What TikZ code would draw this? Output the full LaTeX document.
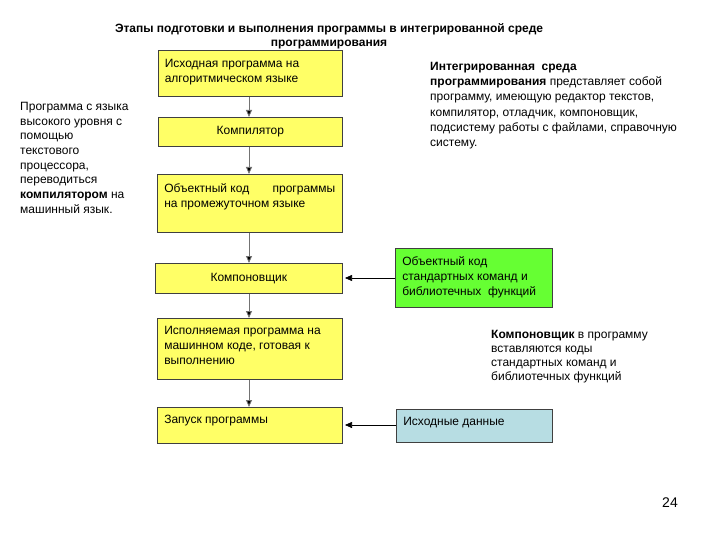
\documentclass[tikz,border=0pt]{standalone}
\usepackage{fontspec}
\setmainfont{Liberation Sans}
\usetikzlibrary{arrows.meta}
\definecolor{boxyellow}{HTML}{FFFF66}
\definecolor{boxgreen}{HTML}{66FF33}
\definecolor{boxblue}{HTML}{B7DDE3}
\tikzset{
  ybox/.style={draw=black!75, line width=0.6pt, inner sep=0pt, anchor=north west, font=\fontsize{12}{15}\selectfont},
  conn/.style={draw=black!55, line width=0.9pt, -{Triangle[length=7pt,width=6pt,fill=black]}},
  hconn/.style={draw=black, line width=0.6pt, -{Triangle[length=7pt,width=6pt]}},
  note/.style={anchor=north west, inner sep=0pt, align=left, font=\fontsize{12}{14.7}\selectfont}
}
\begin{document}
\begin{tikzpicture}[x=1pt,y=-1pt]
\path[use as bounding box, fill=white] (0,0) rectangle (720,540);
\node[font=\bfseries\fontsize{12}{14}\selectfont, align=center, inner sep=0pt] (title) at (329,36) {Этапы подготовки и выполнения программы в интегрированной среде\\программирования};

\node[ybox, fill=boxyellow, minimum width=184pt, minimum height=46pt] (b1) at (158,50)
  {\parbox[c][28pt][t]{171pt}{\raggedright Исходная программа на\\алгоритмическом языке}};
\node[ybox, fill=boxyellow, minimum width=184pt, minimum height=29pt, anchor=north west] (b2) at (158,117) {Компилятор};
\node[ybox, fill=boxyellow, minimum width=185pt, minimum height=58pt] (b3) at (157,174)
  {\parbox[c][40pt][t]{171pt}{Объектный код\hfill программы\\на промежуточном языке}};
\node[ybox, fill=boxyellow, minimum width=187pt, minimum height=30pt] (b4) at (155,263) {Компоновщик};
\node[ybox, fill=boxgreen, minimum width=157pt, minimum height=59pt] (g) at (395,248)
  {\parbox[c][43pt][t]{143pt}{\raggedright Объектный код\\стандартных команд и\\библиотечных\ \ функций}};
\node[ybox, fill=boxyellow, minimum width=185pt, minimum height=61pt] (b5) at (157,318)
  {\parbox[c][45pt][t]{171pt}{\raggedright Исполняемая программа на\\машинном коде, готовая к\\выполнению}};
\node[ybox, fill=boxyellow, minimum width=185pt, minimum height=36pt] (b6) at (157,407)
  {\parbox[c][20pt][t]{171pt}{\raggedright Запуск программы}};
\node[ybox, fill=boxblue, minimum width=156pt, minimum height=33pt] (d) at (396,409)
  {\parbox[c][17pt][t]{142pt}{\raggedright Исходные данные}};

\draw[conn] (b1.south -| 249,0) -- (b2.north -| 249,0);
\draw[conn] (b2.south -| 249,0) -- (b3.north -| 249,0);
\draw[conn] (b3.south -| 249,0) -- (b4.north -| 249,0);
\draw[conn] (b4.south -| 249,0) -- (b5.north -| 249,0);
\draw[conn] (b5.south -| 249,0) -- (b6.north -| 249,0);
\coordinate (ga) at (345,278);
\coordinate (da) at (345,425);
\draw[hconn] (g.west |- ga) -- (ga);
\draw[hconn] (d.west |- da) -- (da);

\node[note] (left) at (20,102) {Программа с языка\\высокого уровня с\\помощью\\текстового\\процессора,\\переводиться\\\textbf{компилятором} на\\машинный язык.};
\node[note, font=\fontsize{12}{15.2}\selectfont] (ide) at (430,62) {\textbf{Интегрированная\ \ среда}\\\textbf{программирования} представляет собой\\программу, имеющую редактор текстов,\\компилятор, отладчик, компоновщик,\\подсистему работы с файлами, справочную\\систему.};
\node[note, font=\fontsize{12}{14}\selectfont] (link) at (491,330) {\textbf{Компоновщик} в программу\\вставляются коды\\стандартных команд и\\библиотечных функций};
\node[font=\fontsize{14}{16}\selectfont, inner sep=0pt] (num) at (670,503) {24};
\end{tikzpicture}
\end{document}
